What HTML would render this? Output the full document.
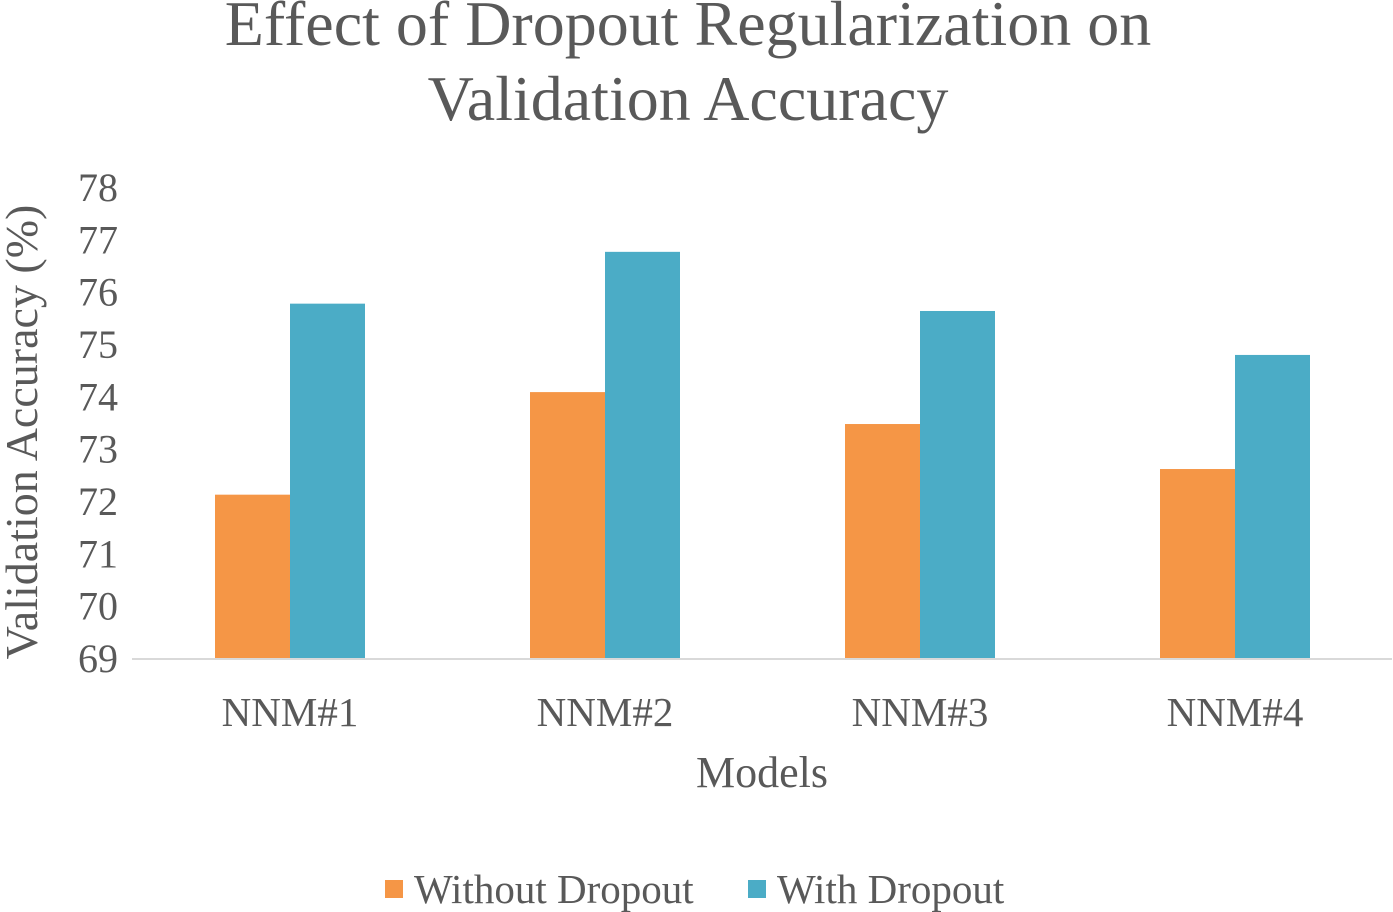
<!DOCTYPE html>
<html><head><meta charset="utf-8"><style>
body{margin:0;background:#fff;}
svg{display:block;font-family:"Liberation Serif",serif;}
</style></head><body>
<svg id="chart" width="1393" height="912">
<text x="688" y="45" text-anchor="middle" font-size="64" fill="#595959">Effect of Dropout Regularization on</text>
<text x="688" y="120" text-anchor="middle" font-size="64" fill="#595959">Validation Accuracy</text>
<text transform="translate(37,432) rotate(-90)" text-anchor="middle" font-size="46" fill="#595959">Validation Accuracy (%)</text>
<text x="762" y="787" text-anchor="middle" font-size="44" fill="#595959">Models</text>
<g id="bars"></g>
<g id="yticks"></g>
<g id="xticks"></g>
<line x1="132" y1="659" x2="1392" y2="659" stroke="#d9d9d9" stroke-width="2"/>
<g>
<rect x="385" y="880" width="18" height="18" fill="#f59646"/>
<text x="414" y="903" font-size="41" fill="#595959">Without Dropout</text>
<rect x="748" y="880" width="18" height="18" fill="#4bacc6"/>
<text x="777" y="903" font-size="41" fill="#595959">With Dropout</text>
</g>
</svg>
<script>
const categories=["NNM#1","NNM#2","NNM#3","NNM#4"];
const withoutDropout=[72.14,74.1,73.49,72.63];
const withDropout=[75.79,76.78,75.65,74.81];
const yTicks=[69,70,71,72,73,74,75,76,77,78];
const NS="http://www.w3.org/2000/svg";
const yMin=69,yMax=78,y0=659,y1=188,xL=132.5,catW=315,barW=75;
const y=v=>y0-(v-yMin)/(yMax-yMin)*(y0-y1);
const xc=i=>xL+catW*(i+0.5);
const bars=document.getElementById('bars'),yt=document.getElementById('yticks'),xt=document.getElementById('xticks');
function mk(tag,attrs){const e=document.createElementNS(NS,tag);for(const k in attrs)e.setAttribute(k,attrs[k]);return e;}
categories.forEach((c,i)=>{
 const a=mk('rect',{x:xc(i)-barW,y:y(withoutDropout[i]),width:barW,height:y0-y(withoutDropout[i]),fill:'#f59646'});
 
 
 bars.appendChild(a);
 const b=mk('rect',{x:xc(i),y:y(withDropout[i]),width:barW,height:y0-y(withDropout[i]),fill:'#4bacc6'});
 
 
 bars.appendChild(b);
 const t=mk('text',{x:xc(i),y:726,'text-anchor':'middle','font-size':41,fill:'#595959'});
 t.textContent=c;
 
 
 xt.appendChild(t);
});
yTicks.forEach(v=>{
 const t=mk('text',{x:118,y:y(v)+13,'text-anchor':'end','font-size':40,fill:'#595959'});
 t.textContent=v;
 
 
 yt.appendChild(t);
});
</script>
</body></html>
